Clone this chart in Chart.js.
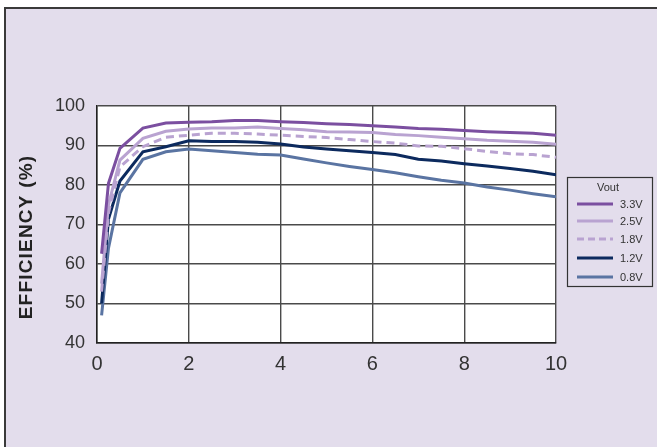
<!DOCTYPE html>
<html>
<head>
<meta charset="utf-8">
<script src="https://cdn.jsdelivr.net/npm/chart.js@4/dist/chart.umd.min.js"></script>
<style>
  html, body { margin: 0; padding: 0; background: #fff; overflow: hidden; }
  #frame {
    position: absolute; left: 4px; top: 7px; width: 700px; height: 500px;
    border: 2px solid #3a3a3a; background: #e3ddec;
  }
  #chart { position: absolute; left: 0; top: 0; }
</style>
</head>
<body>
<div id="frame"></div>
<canvas id="chart" width="657" height="447"></canvas>
<script>
// output current (A) and efficiency (%) per output voltage
const current = [0.1, 0.25, 0.5, 1, 1.5, 2, 2.5, 3, 3.5, 4, 4.5, 5, 5.5, 6, 6.5, 7, 7.5, 8, 8.5, 9, 9.5, 10];
const eff33 = [62.6, 80.4, 89.3, 94.4, 95.7, 95.9, 96.0, 96.3, 96.3, 96.0, 95.8, 95.5, 95.3, 95.0, 94.7, 94.3, 94.1, 93.8, 93.5, 93.3, 93.1, 92.6];
const eff25 = [55, 75, 86.3, 91.8, 93.6, 94.2, 94.4, 94.4, 94.7, 94.3, 94.0, 93.5, 93.4, 93.3, 92.8, 92.5, 92.1, 91.7, 91.3, 91.1, 90.8, 90.3];
const eff18 = [53, 73, 84.6, 89.7, 92.1, 92.6, 93.1, 93.1, 92.9, 92.6, 92.3, 92.0, 91.5, 91.0, 90.6, 89.9, 89.8, 89.2, 88.5, 87.9, 87.7, 87.0];
const eff12 = [50, 71.4, 81.0, 88.4, 89.7, 91.2, 91.0, 91.0, 90.8, 90.4, 89.6, 89.1, 88.7, 88.2, 87.7, 86.5, 86.1, 85.4, 84.8, 84.2, 83.5, 82.6];
const eff08 = [47, 64, 78.0, 86.5, 88.4, 89.1, 88.7, 88.2, 87.8, 87.6, 86.6, 85.6, 84.7, 83.9, 83.1, 82.1, 81.2, 80.5, 79.5, 78.7, 77.8, 77.0];
const seriesLabels = ["3.3V", "2.5V", "1.8V", "1.2V", "0.8V"];
const yTitle = "EFFICIENCY (%)";
const legendTitle = "Vout";

const colors = ["#7b4fa0", "#b9a3d1", "#b9a3d1", "#0c2a5e", "#5a74a2"];
const dashes = [[], [], [8, 5], [], []];
const allSeries = [eff33, eff25, eff18, eff12, eff08];

function points(vals) {
  return vals.map((v, i) => ({ x: current[i], y: v }));
}

const datasets = allSeries.map((vals, i) => ({
  label: seriesLabels[i],
  data: points(vals),
  borderColor: colors[i],
  borderWidth: 3,
  borderDash: dashes[i],
  pointRadius: 0,
  tension: 0,
  fill: false
}));

const whiteArea = {
  id: "whiteArea",
  beforeDraw(chart) {
    const a = chart.chartArea;
    const ctx = chart.ctx;
    ctx.save();
    ctx.fillStyle = "#fff";
    ctx.fillRect(a.left, a.top, a.right - a.left, a.bottom - a.top);
    ctx.restore();
  }
};

const extras = {
  id: "extras",
  afterDraw(chart) {
    const ctx = chart.ctx;
    ctx.save();
    // y axis title
    ctx.translate(27, 237);
    ctx.rotate(-Math.PI / 2);
    ctx.fillStyle = "#222";
    ctx.font = "bold 19px 'Liberation Sans', Arial, sans-serif";
    if ("letterSpacing" in ctx) ctx.letterSpacing = "1.2px";
    ctx.textAlign = "center";
    ctx.textBaseline = "middle";
    ctx.fillText(yTitle, 0, 0);
    ctx.restore();

    // legend box
    ctx.save();
    ctx.strokeStyle = "#333";
    ctx.lineWidth = 1.2;
    ctx.strokeRect(567.5, 177.5, 85, 109);
    ctx.fillStyle = "#333";
    ctx.font = "11px 'Liberation Sans', Arial, sans-serif";
    ctx.textAlign = "center";
    ctx.textBaseline = "middle";
    ctx.fillText(legendTitle, 608, 188);
    const rows = [204, 221, 239, 258, 277];
    chart.data.datasets.forEach((ds, i) => {
      ctx.beginPath();
      ctx.strokeStyle = ds.borderColor;
      ctx.lineWidth = 3;
      ctx.setLineDash(i === 2 ? [7, 4] : []);
      ctx.moveTo(577, rows[i]);
      ctx.lineTo(613, rows[i]);
      ctx.stroke();
      ctx.setLineDash([]);
      ctx.fillStyle = "#333";
      ctx.textAlign = "left";
      ctx.fillText(ds.label, 620, rows[i] + 1);
    });
    ctx.restore();
  }
};

new Chart(document.getElementById("chart"), {
  type: "line",
  data: { datasets: datasets },
  options: {
    responsive: false,
    animation: false,
    layout: { padding: { left: 0, top: 106, right: 101, bottom: 64 } },
    plugins: { legend: { display: false }, tooltip: { enabled: false } },
    scales: {
      x: {
        type: "linear",
        min: 0,
        max: 10,
        afterFit(scale) { scale.height = 40; },
        ticks: {
          stepSize: 2,
          padding: 9,
          color: "#333",
          font: { size: 20, family: "'Liberation Sans', Arial, sans-serif" }
        },
        grid: { color: "#4a4a4a", lineWidth: 1.4, drawTicks: false },
        border: { color: "#222", width: 1.5 }
      },
      y: {
        min: 40,
        max: 100,
        afterFit(scale) { scale.width = 97; },
        ticks: {
          stepSize: 10,
          padding: 12,
          color: "#333",
          font: { size: 18, family: "'Liberation Sans', Arial, sans-serif" }
        },
        grid: { color: "#4a4a4a", lineWidth: 1.4, drawTicks: false },
        border: { color: "#222", width: 1.5 }
      }
    }
  },
  plugins: [whiteArea, extras]
});
</script>
</body>
</html>
